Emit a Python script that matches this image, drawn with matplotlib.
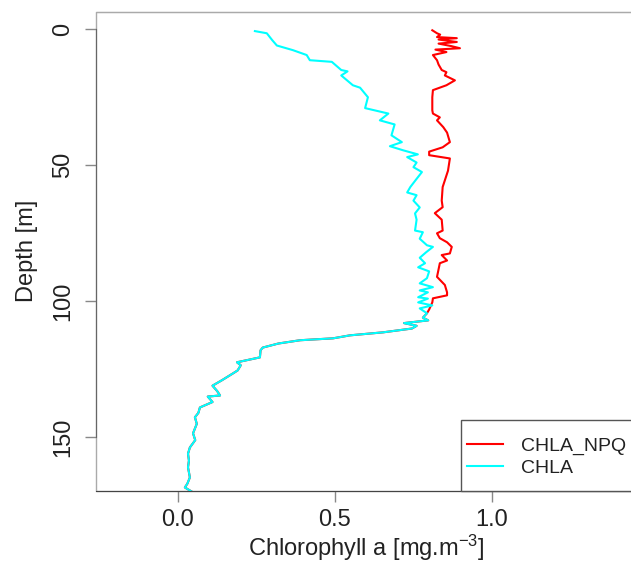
import numpy as np
import matplotlib
matplotlib.use('Agg')
import matplotlib.pyplot as plt
from matplotlib.patches import Rectangle

plt.rcParams['font.family'] = ['Liberation Sans', 'DejaVu Sans']
plt.rcParams['mathtext.fontset'] = 'custom'
plt.rcParams['mathtext.rm'] = 'Liberation Sans'
plt.rcParams['mathtext.it'] = 'Liberation Sans'

#CHLA profile (depth in m, value in mg.m-3)
chla_depth = [0.7, 1.5, 4, 6, 7.7, 9.5, 11.4, 12, 15, 15.5, 17, 20.6, 21.5, 25, 29, 31, 33.5, 35, 39,
              41.5, 43, 44.5, 46, 47, 49, 50.7, 52.5, 55, 58, 60, 61, 63, 65.5, 67.7, 70, 74, 74.6, 77,
              79.4, 80, 82, 84, 86, 87.5, 89, 91.5, 93.4, 94.8, 96, 96.7, 98.5, 99, 100.4, 101.5, 102.6,
              104.4, 106, 107, 108, 109, 110, 111.4, 112.5, 113.6, 114.3, 115.5, 117, 118, 120.6, 122.4,
              123.5, 125.4, 126.5, 129, 131, 133, 134.6, 135, 137, 139, 141, 142.6, 145, 148.5, 151,
              153.7, 156, 158.5, 161, 164.7, 167, 168.4, 170]
chla = [0.245, 0.283, 0.30, 0.315, 0.366, 0.41, 0.42, 0.49, 0.52, 0.54, 0.52, 0.557, 0.58, 0.605, 0.596,
        0.67, 0.643, 0.69, 0.68, 0.713, 0.675, 0.717, 0.764, 0.73, 0.76, 0.75, 0.777, 0.76, 0.74, 0.73,
        0.76, 0.75, 0.77, 0.755, 0.76, 0.755, 0.78, 0.77, 0.793, 0.812, 0.79, 0.77, 0.787, 0.765, 0.80,
        0.793, 0.77, 0.812, 0.77, 0.796, 0.765, 0.796, 0.765, 0.81, 0.77, 0.793, 0.78, 0.797, 0.72, 0.76,
        0.745, 0.653, 0.548, 0.494, 0.389, 0.32, 0.27, 0.263, 0.261, 0.188, 0.20, 0.19, 0.175, 0.14,
        0.11, 0.125, 0.134, 0.095, 0.11, 0.07, 0.065, 0.054, 0.06, 0.048, 0.055, 0.038, 0.032, 0.035,
        0.032, 0.038, 0.03, 0.022, 0.045]

#CHLA_NPQ upper part (below ~104 m it is the same as CHLA)
npq_depth_top = [0.4, 1.5, 2.0, 2.9, 3.3, 3.8, 4.7, 5.3, 6.2, 7.0, 7.5, 8.4, 9.5, 11.4, 13, 15, 15.8, 17,
                 18.8, 20.6, 22.4, 25, 29.8, 31, 32.4, 33.5, 36, 38, 41.5, 43.4, 45, 46.3, 47.5, 52, 58,
                 63, 65.4, 67.6, 70, 74, 75, 76.8, 78.3, 80, 82.4, 83, 85, 86, 91, 94, 96.7, 97.8, 98.9,
                 100.4, 103]
npq_top = [0.81, 0.825, 0.835, 0.825, 0.888, 0.83, 0.888, 0.83, 0.87, 0.898, 0.82, 0.855, 0.812, 0.825,
           0.83, 0.84, 0.855, 0.85, 0.882, 0.855, 0.812, 0.81, 0.81, 0.812, 0.834, 0.825, 0.845, 0.857,
           0.866, 0.843, 0.80, 0.80, 0.866, 0.86, 0.843, 0.84, 0.843, 0.818, 0.84, 0.843, 0.825, 0.834,
           0.857, 0.872, 0.866, 0.84, 0.857, 0.834, 0.825, 0.85, 0.857, 0.857, 0.812, 0.81, 0.80]

chla_depth = np.array(chla_depth)
chla = np.array(chla)
m = chla_depth > npq_depth_top[-1]
npq_depth = np.concatenate([npq_depth_top, chla_depth[m]])
npq = np.concatenate([npq_top, chla[m]])

fig = plt.figure(figsize=(6.31, 5.68), dpi=100)
axw = 636.4 - 96
axh = 491 - 11.5
ax = fig.add_axes([96/631, 1-491/568, axw/631, axh/568])

l1, = ax.plot(npq, npq_depth, color='red', lw=1.5, label='CHLA_NPQ')
l2, = ax.plot(chla, chla_depth, color='cyan', lw=1.5, label='CHLA')

ax.set_xlim(-0.261, 1.46)
ax.set_ylim(169.7, -6.5)
ax.set_xticks([0.0, 0.5, 1.0])
ax.set_xticklabels(['0.0', '0.5', '1.0'])
ax.set_yticks([0, 50, 100, 150])
for lab in ax.get_yticklabels():
 lab.set_rotation(90)
 lab.set_va('center')
ax.tick_params(axis='both', length=8, width=1, color='#888888', labelsize=17, labelcolor='#222222')
ax.tick_params(axis='x', pad=5)
ax.tick_params(axis='y', pad=8)

#box light grey, axis lines darker
for s in ['top', 'right']:
 ax.spines[s].set_color('#aaaaaa')
ax.spines['left'].set_color('#666666')
ax.spines['left'].set_bounds(0, 150)
ax.spines['bottom'].set_color('#444444')
ax.add_patch(Rectangle((0, 0), 1, 1, transform=ax.transAxes, fill=False, edgecolor='#aaaaaa', lw=1, zorder=0, clip_on=False))

ax.set_xlabel('Chlorophyll a [mg.m$^{-3}$]', fontsize=17, color='#222222', labelpad=1)
ax.set_ylabel('Depth [m]', fontsize=17, color='#222222', labelpad=10)

#legend box (R style, runs off the right edge)
lx = (461-96)/axw
ly = (491-420)/axh
ax.add_patch(Rectangle((lx, 0), 1.2, ly, transform=ax.transAxes, facecolor='white', edgecolor='#555555', lw=1, zorder=3, clip_on=False))
leg = ax.legend(handles=[l1, l2], loc='upper left', bbox_to_anchor=(lx+6/axw, ly-17/axh),
                fontsize=14, frameon=False, borderaxespad=0, borderpad=0,
                handlelength=1.85, handletextpad=0.95, labelspacing=0.25)
leg.set_zorder(4)
for t in leg.get_texts():
 t.set_color('#222222')

fig.savefig('out.png', dpi=100)
